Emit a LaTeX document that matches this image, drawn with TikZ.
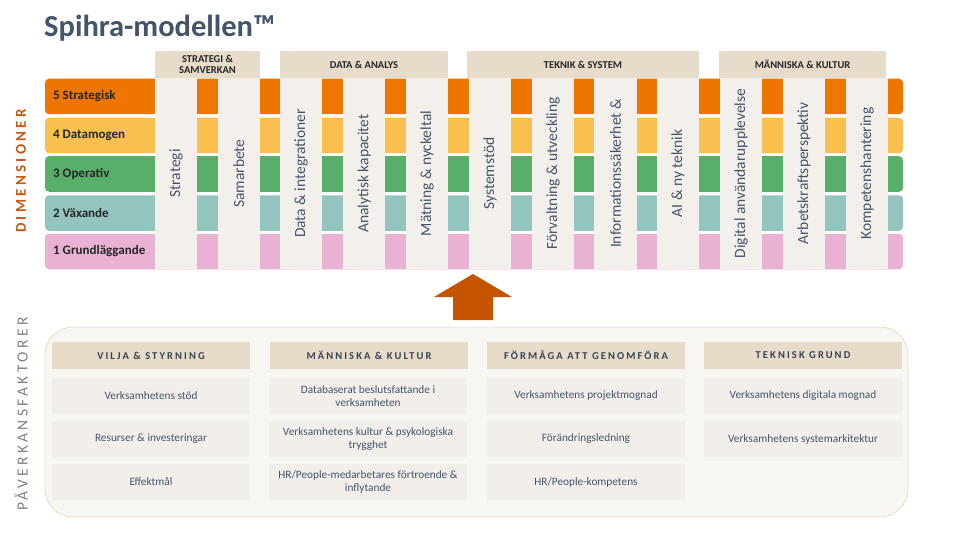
\documentclass[tikz,border=0pt]{standalone}
\usepackage{fontspec}
\setmainfont{Carlito}
\newfontfamily\spacedfont[LetterSpace=20]{Carlito}
\newfontfamily\widefont[LetterSpace=22]{Carlito}
\hyphenpenalty=10000
\exhyphenpenalty=10000
\definecolor{lv5}{RGB}{238,118,0}
\definecolor{lv4}{RGB}{249,192,80}
\definecolor{lv3}{RGB}{88,175,105}
\definecolor{lv2}{RGB}{147,197,190}
\definecolor{lv1}{RGB}{234,178,210}
\definecolor{colfill}{RGB}{243,240,235}
\definecolor{hdrfill}{RGB}{231,219,202}
\definecolor{panelfill}{RGB}{248,246,242}
\definecolor{panelline}{RGB}{235,220,200}
\definecolor{itemfill}{RGB}{242,239,234}
\definecolor{slate}{RGB}{68,84,106}
\definecolor{darktext}{RGB}{38,38,38}
\definecolor{arrowc}{RGB}{196,84,0}
\definecolor{dimc}{RGB}{197,90,17}
\definecolor{grayc}{RGB}{127,127,127}
\tikzset{
  rowbox/.style={fill=#1, rounded corners=4pt, inner sep=0pt, minimum width=858pt, minimum height=35.5pt},
  rowlabel/.style={anchor=west, inner sep=0pt, font=\bfseries\fontsize{13}{15}\selectfont, text=darktext},
  colbox/.style={fill=colfill, rotate=90, inner sep=0pt, minimum width=191pt, minimum height=42.5pt, font=\fontsize{15.5}{17}\selectfont, text=slate},
  tophdr/.style={fill=hdrfill, inner sep=0pt, minimum height=27pt, align=center, font=\bfseries\fontsize{10.5}{11.5}\selectfont, text=darktext},
  bothdr/.style={fill=hdrfill, inner sep=0pt, minimum width=198pt, minimum height=27pt, font=\spacedfont\bfseries\fontsize{10.5}{12}\selectfont, text=slate!80!black},
  itembox/.style={fill=itemfill, inner sep=0pt, minimum width=198pt, minimum height=36pt, align=center, font=\fontsize{11.3}{13.5}\selectfont, text=slate}
}
\begin{document}
\begin{tikzpicture}[x=1pt,y=-1pt]
\useasboundingbox (0,0) rectangle (960,540);
% title
\node[anchor=base west, inner sep=0pt, font=\bfseries\fontsize{30.5}{34}\selectfont, text=slate] (title) at (44,37) {Spihra-modellen™};
% rows
\node[rowbox=lv5] (r5) at (474,96.5) {};
\node[rowbox=lv4] (r4) at (474,135.5) {};
\node[rowbox=lv3] (r3) at (474,174) {};
\node[rowbox=lv2] (r2) at (474,213) {};
\node[rowbox=lv1] (r1) at (474,251.5) {};
\node[rowlabel] (l5) at (53,96.5) {5 Strategisk};
\node[rowlabel] (l4) at (53,135.5) {4 Datamogen};
\node[rowlabel] (l3) at (53,174) {3 Operativ};
\node[rowlabel] (l2) at (53,213) {2 Växande};
\node[rowlabel] (l1) at (53,251.5) {1 Grundläggande};
% columns
\node[colbox] (c1) at (176.2,173.5) {Strategi};
\node[colbox] (c2) at (238.8,173.5) {Samarbete};
\node[colbox] (c3) at (301.2,173.5) {Data \& integrationer};
\node[colbox] (c4) at (364.2,173.5) {Analytisk kapacitet};
\node[colbox] (c5) at (427,173.5) {Mätning \& nyckeltal};
\node[colbox] (c6) at (490,173.5) {Systemstöd};
\node[colbox] (c7) at (553,173.5) {Förvaltning \& utveckling};
\node[colbox] (c8) at (615.5,173.5) {Informationssäkerhet \&};
\node[colbox] (c9) at (678,173.5) {AI \& ny teknik};
\node[colbox] (c10) at (741,173.5) {Digital användarupplevelse};
\node[colbox] (c11) at (804,173.5) {Arbetskraftsperspektiv};
\node[colbox] (c12) at (867,173.5) {Kompetenshantering};
% top headers
\node[tophdr, minimum width=105pt] (h1) at (207.5,64.5) {STRATEGI \&\\SAMVERKAN};
\node[tophdr, minimum width=168pt] (h2) at (364,64.5) {DATA \& ANALYS};
\node[tophdr, minimum width=232pt] (h3) at (583,64.5) {TEKNIK \& SYSTEM};
\node[tophdr, minimum width=167pt] (h4) at (802.5,64.5) {MÄNNISKA \& KULTUR};
% side labels
\node[rotate=90, inner sep=0pt, font=\widefont\bfseries\fontsize{15}{17}\selectfont, text=dimc] (dim) at (21,171) {DIMENSIONER};
\node[rotate=90, inner sep=0pt, font=\widefont\fontsize{15.5}{17}\selectfont, text=grayc] (pav) at (21,414) {PÅVERKANSFAKTORER};
% arrow
\fill[arrowc] (473,274) -- (512,297) -- (493,297) -- (493,320) -- (453,320) -- (453,297) -- (434,297) -- cycle;
% bottom panel
\node[fill=panelfill, draw=panelline, line width=0.8pt, rounded corners=28pt, inner sep=0pt, minimum width=863pt, minimum height=190pt] (panel) at (476.5,422) {};
% bottom headers
\node[bothdr] (b1) at (151,355.5) {VILJA \& STYRNING};
\node[bothdr] (b2) at (369,355.5) {MÄNNISKA \& KULTUR};
\node[bothdr] (b3) at (586,355.5) {FÖRMÅGA ATT GENOMFÖRA};
\node[bothdr] (b4) at (803,355.5) {TEKNISK GRUND};
% items
\node[itembox] (i11) at (151,396) {Verksamhetens stöd};
\node[itembox] (i12) at (151,439) {Resurser \& investeringar};
\node[itembox] (i13) at (151,482) {Effektmål};
\node[itembox] (i21) at (368,396) {Databaserat beslutsfattande i\\verksamheten};
\node[itembox] (i22) at (368,439) {Verksamhetens kultur \& psykologiska\\trygghet};
\node[itembox] (i23) at (368,482) {HR/People-medarbetares förtroende \&\\inflytande};
\node[itembox] (i31) at (586,396) {Verksamhetens projektmognad};
\node[itembox] (i32) at (586,439) {Förändringsledning};
\node[itembox] (i33) at (586,482) {HR/People-kompetens};
\node[itembox] (i41) at (803,396) {Verksamhetens digitala mognad};
\node[itembox] (i42) at (803,439) {Verksamhetens systemarkitektur};
\end{tikzpicture}
\end{document}
